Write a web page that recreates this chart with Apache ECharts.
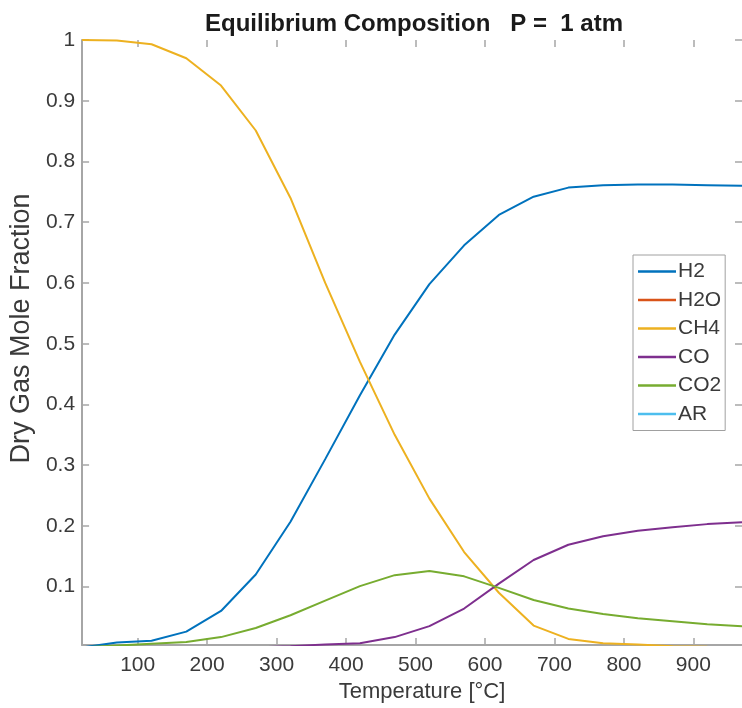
<!DOCTYPE html>
<html>
<head>
<meta charset="utf-8">
<script src="https://cdn.jsdelivr.net/npm/echarts@6/dist/echarts.min.js"></script>
<style>
html,body{margin:0;padding:0;background:#fff;}
#c{width:742px;height:708px;}
</style>
</head>
<body>
<div id="c"></div>
<script>
// Data
const temperatures = [20, 70, 120, 170, 220, 270, 320, 370, 420, 470, 520, 570, 620, 670, 720, 770, 820, 870, 920, 970];
const h2  = [0, 0.008, 0.011, 0.026, 0.06, 0.12, 0.207, 0.31, 0.415, 0.515, 0.598, 0.662, 0.712, 0.742, 0.757, 0.761, 0.762, 0.762, 0.761, 0.760];
const h2o = [0, 0, 0, 0, 0, 0, 0, 0, 0, 0, 0, 0, 0, 0, 0, 0, 0, 0, 0, 0];
const ch4 = [1.0, 0.999, 0.993, 0.97, 0.925, 0.851, 0.74, 0.60, 0.47, 0.35, 0.245, 0.157, 0.09, 0.036, 0.014, 0.007, 0.005, 0.002, 0.001, 0.0005];
const co  = [0, 0, 0, 0, 0, 0, 0.002, 0.005, 0.007, 0.017, 0.035, 0.064, 0.105, 0.144, 0.169, 0.183, 0.192, 0.198, 0.203, 0.206];
const co2 = [0, 0.003, 0.006, 0.009, 0.017, 0.032, 0.053, 0.077, 0.101, 0.119, 0.126, 0.117, 0.098, 0.078, 0.064, 0.055, 0.048, 0.043, 0.038, 0.035];
const ar  = [0, 0, 0, 0, 0, 0, 0, 0, 0, 0, 0, 0, 0, 0, 0, 0, 0, 0, 0, 0];

const seriesNames = ['H2', 'H2O', 'CH4', 'CO', 'CO2', 'AR'];
const seriesValues = [h2, h2o, ch4, co, co2, ar];
const colors = ['#0072BD', '#D95319', '#EDB120', '#7E2F8E', '#77AC30', '#4DBEEE'];

const xTicks = [100, 200, 300, 400, 500, 600, 700, 800, 900];
const yTicks = [0.1, 0.2, 0.3, 0.4, 0.5, 0.6, 0.7, 0.8, 0.9, 1];

const titleText = 'Equilibrium Composition   P =  1 atm';
const xName = 'Temperature [°C]';
const yName = 'Dry Gas Mole Fraction';

const FONT = '"Liberation Sans", Arial, Helvetica, sans-serif';
const AXIS_COLOR = '#a6a6a6';
const TEXT_COLOR = '#3a3a3a';

const chart = echarts.init(document.getElementById('c'), null, {renderer: 'canvas'});

const series = seriesNames.map((name, i) => ({
  name: name,
  type: 'line',
  data: temperatures.map((t, j) => [t, seriesValues[i][j]]),
  symbol: 'none',
  showSymbol: false,
  clip: true,
  lineStyle: {color: colors[i], width: 2},
  itemStyle: {color: colors[i]},
  animation: false,
  xAxisIndex: 0,
  yAxisIndex: 0
}));

const option = {
  backgroundColor: '#fff',
  animation: false,
  title: {
    text: titleText,
    left: 409,
    textAlign: 'center',
    top: 7,
    textStyle: {fontFamily: FONT, fontSize: 24, fontWeight: 'bold', color: '#1a1a1a'}
  },
  legend: {
    orient: 'vertical',
    left: 633,
    top: 255,
    padding: [6, 4, 6, 5],
    icon: 'rect',
    itemWidth: 38,
    itemHeight: 2.5,
    itemGap: 7.5,
    borderColor: '#a0a0a0',
    borderWidth: 1,
    backgroundColor: '#fff',
    textStyle: {fontFamily: FONT, fontSize: 21, color: TEXT_COLOR, lineHeight: 20, padding: [0, 0, 0, -3]},
    data: seriesNames
  },
  grid: {left: 79, right: -7, top: 40, bottom: 63, containLabel: false},
  xAxis: [
    {
      type: 'value', min: 20, max: 970, position: 'bottom',
      name: xName, nameLocation: 'middle', nameGap: 36,
      nameTextStyle: {fontFamily: FONT, fontSize: 22, color: TEXT_COLOR, padding: [0, 0, 0, 20]},
      axisLine: {show: true, lineStyle: {color: AXIS_COLOR, width: 2}},
      axisTick: {show: true, inside: true, length: 7, customValues: xTicks, lineStyle: {color: AXIS_COLOR, width: 1.5}},
      axisLabel: {customValues: xTicks, margin: 10, fontFamily: FONT, fontSize: 21, color: TEXT_COLOR},
      splitLine: {show: false}
    },
    {
      type: 'value', min: 20, max: 970, position: 'top',
      axisLine: {show: false},
      axisTick: {show: true, inside: true, length: 7, customValues: xTicks, lineStyle: {color: AXIS_COLOR, width: 1.5}},
      axisLabel: {show: false},
      splitLine: {show: false}
    }
  ],
  yAxis: [
    {
      type: 'value', min: 0.004, max: 1, position: 'left',
      name: yName, nameLocation: 'middle', nameGap: 42,
      nameTextStyle: {fontFamily: FONT, fontSize: 27, color: TEXT_COLOR, padding: [0, 0, 0, 28]},
      axisLine: {show: true, lineStyle: {color: AXIS_COLOR, width: 2}},
      axisTick: {show: true, inside: true, length: 7, customValues: yTicks, lineStyle: {color: AXIS_COLOR, width: 1.5}},
      axisLabel: {customValues: yTicks, margin: 7, fontFamily: FONT, fontSize: 21, color: TEXT_COLOR,
        formatter: v => (Math.abs(v - 1) < 1e-9 ? '1' : v.toFixed(1))},
      splitLine: {show: false}
    },
    {
      type: 'value', min: 0.004, max: 1, position: 'right',
      axisLine: {show: false},
      axisTick: {show: true, inside: true, length: 7, customValues: yTicks, lineStyle: {color: AXIS_COLOR, width: 1.5}},
      axisLabel: {show: false},
      splitLine: {show: false}
    }
  ],
  series: series
};

chart.setOption(option);
</script>
</body>
</html>
